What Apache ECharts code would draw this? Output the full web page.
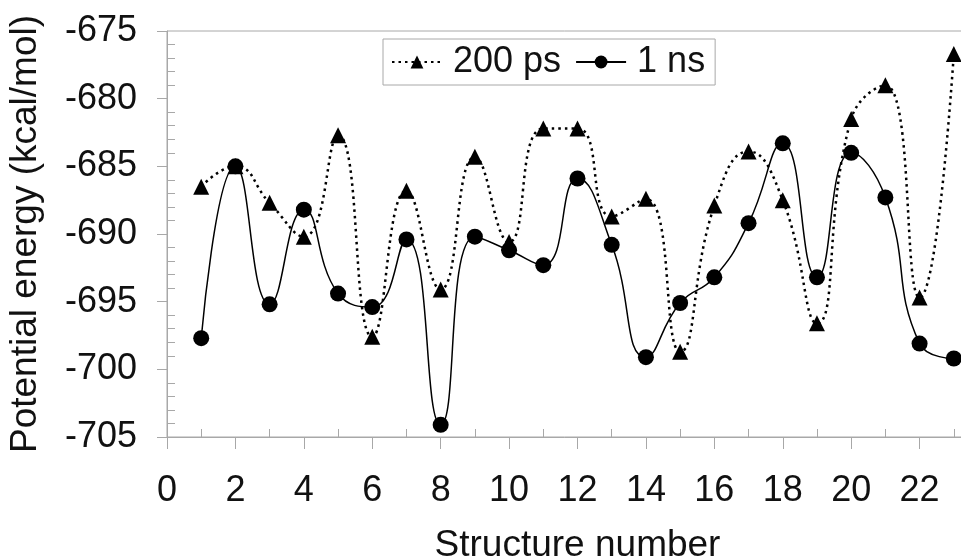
<!DOCTYPE html>
<html>
<head>
<meta charset="utf-8">
<script src="https://cdn.jsdelivr.net/npm/echarts@6/dist/echarts.min.js"></script>
<style>
  html, body { margin: 0; padding: 0; background: #fff; }
  #chart { width: 961px; height: 558px; }
</style>
</head>
<body>
<div id="chart"></div>
<script>
var structures = [1, 2, 3, 4, 5, 6, 7, 8, 9, 10, 11, 12, 13, 14, 15, 16, 17, 18, 19, 20, 21, 22, 23];
var ps200 = [-686.5, -685.0, -687.7, -690.2, -682.7, -697.6, -686.8, -694.1, -684.3, -690.6, -682.2, -682.2,
             -688.7, -687.4, -698.7, -687.9, -683.9, -687.5, -696.6, -681.5, -679.0, -694.7, -676.7];
var ns1 = [-697.7, -685.0, -695.2, -688.2, -694.4, -695.4, -690.4, -704.1, -690.2, -691.2, -692.3, -685.9,
           -690.8, -699.1, -695.1, -693.2, -689.2, -683.3, -693.2, -684.0, -687.3, -698.1, -699.2];

function pairs(ys) {
    var out = [];
    for (var i = 0; i < structures.length; i++) {
        out.push([structures[i], ys[i]]);
    }
    return out;
}

var axisColor = '#a8a8a8';
var font = 'Liberation Sans, Arial, sans-serif';

var option = {
    animation: false,
    backgroundColor: '#fff',
    grid: {
        left: 167,
        right: -27,
        top: 31,
        bottom: 121,
        containLabel: false,
        outerBoundsMode: 'none',
        show: true,
        borderColor: axisColor,
        borderWidth: 1
    },
    legend: {
        left: 383,
        top: 39,
        padding: [5, 10, 5, 8],
        itemWidth: 50,
        itemHeight: 16,
        itemGap: 14,
        borderColor: axisColor,
        borderWidth: 1,
        textStyle: {
            fontFamily: font,
            fontSize: 36,
            color: '#111',
            padding: [0, 0, 0, 6]
        },
        data: ['200 ps', '1 ns']
    },
    xAxis: {
        type: 'value',
        min: 0,
        max: 24,
        interval: 2,
        name: 'Structure number',
        nameLocation: 'middle',
        nameGap: 90,
        nameTextStyle: { fontFamily: font, fontSize: 37, color: '#111' },
        axisLine: { lineStyle: { color: axisColor, width: 1 } },
        axisTick: { length: 12, lineStyle: { color: axisColor } },
        minorTick: { show: true, splitNumber: 2, length: -8, lineStyle: { color: axisColor } },
        splitLine: { show: false },
        axisLabel: {
            fontFamily: font,
            fontSize: 36,
            color: '#111',
            margin: 36,
            showMaxLabel: false
        }
    },
    yAxis: {
        type: 'value',
        min: -705,
        max: -675,
        interval: 5,
        name: 'Potential energy (kcal/mol)',
        nameLocation: 'middle',
        nameGap: 123,
        nameTextStyle: { fontFamily: font, fontSize: 37, color: '#111' },
        axisLine: { show: true, lineStyle: { color: axisColor, width: 1 } },
        axisTick: { show: true, length: 10, lineStyle: { color: axisColor } },
        minorTick: { show: true, splitNumber: 5, length: -8, lineStyle: { color: axisColor } },
        splitLine: { show: false },
        axisLabel: {
            fontFamily: font,
            fontSize: 36,
            color: '#111',
            margin: 30
        }
    },
    series: [
        {
            name: '200 ps',
            type: 'line',
            smooth: 0.5,
            data: pairs(ps200),
            symbol: 'triangle',
            symbolSize: 16,
            itemStyle: { color: '#000' },
            lineStyle: { color: '#000', width: 2.5, type: [2.5, 4] },
            z: 3
        },
        {
            name: '1 ns',
            type: 'line',
            smooth: 0.5,
            data: pairs(ns1),
            symbol: 'circle',
            symbolSize: 16,
            itemStyle: { color: '#000' },
            lineStyle: { color: '#000', width: 1.5, type: 'solid' },
            z: 4
        }
    ]
};

var myChart = echarts.init(document.getElementById('chart'), null, { renderer: 'canvas' });
myChart.setOption(option);
</script>
</body>
</html>
